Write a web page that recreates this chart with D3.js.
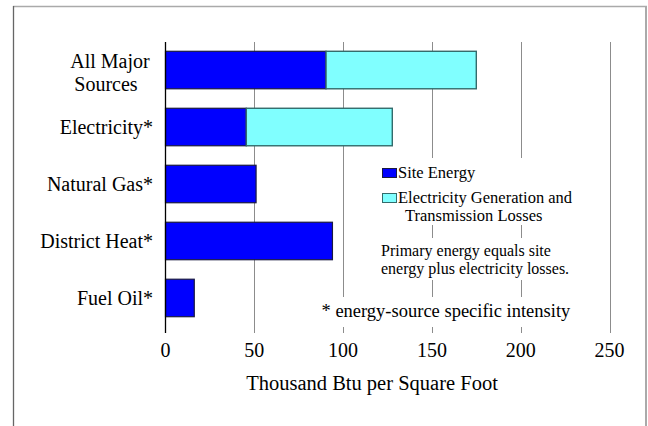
<!DOCTYPE html>
<html>
<head>
<meta charset="utf-8">
<script src="https://cdn.jsdelivr.net/npm/d3@7"></script>
<style>
  html, body { margin: 0; padding: 0; background: #fff; }
  svg { display: block; }
</style>
</head>
<body>
<script>
const categories = ["All Major Sources", "Electricity*", "Natural Gas*", "District Heat*", "Fuel Oil*"];
const siteEnergy = [90.4, 45.5, 51, 94, 16.2];
const losses = [84.6, 82.2, 0, 0, 0];
const tickValues = [0, 50, 100, 150, 200, 250];
const seriesNames = ["Site Energy", "Electricity Generation and|Transmission Losses"];
const seriesColors = ["#0000FF", "#80FFFF"];
const axisTitle = "Thousand Btu per Square Foot";
const noteLines = ["Primary energy equals site", "energy plus electricity losses."];
const footnote = "* energy-source specific intensity";

const FONT = "'Liberation Serif', Tinos, 'Times New Roman', Times, 'DejaVu Serif', serif";
const W = 648, H = 426;
const svg = d3.select("body").append("svg").attr("width", W).attr("height", H)
  .attr("font-family", FONT).style("font-family", FONT);

// frame
svg.append("line").attr("x1", 13).attr("x2", 647).attr("y1", 6.5).attr("y2", 6.5).attr("stroke", "#aaa").attr("stroke-width", 1.5);
svg.append("line").attr("x1", 13.5).attr("x2", 13.5).attr("y1", 6).attr("y2", 426).attr("stroke", "#666").attr("stroke-width", 1.3);
svg.append("line").attr("x1", 646).attr("x2", 646).attr("y1", 6).attr("y2", 426).attr("stroke", "#aaa").attr("stroke-width", 2);

const plotTop = 42, plotBottom = 333;
const x = d3.scaleLinear().domain([0, 250]).range([165.5, 609.5]);
const y = d3.scaleBand().domain(categories).range([42, 326]).paddingInner(0.342).paddingOuter(0.163);

// gridlines
svg.append("g").selectAll("line").data(tickValues.slice(1)).join("line")
  .attr("x1", d => Math.round(x(d)) + 0.5).attr("x2", d => Math.round(x(d)) + 0.5)
  .attr("y1", plotTop).attr("y2", plotBottom)
  .attr("stroke", "#8c8c8c").attr("stroke-width", 1);

// white boxes behind text (hide gridlines)
const boxes = [[378, 158, 208, 67], [378, 238, 208, 42], [318, 297, 262, 30]];
svg.append("g").selectAll("rect").data(boxes).join("rect")
  .attr("x", d => d[0]).attr("y", d => d[1]).attr("width", d => d[2]).attr("height", d => d[3])
  .attr("fill", "#fff");

// bars
const rows = categories.map((c, i) => ({ c, site: siteEnergy[i], loss: losses[i] }));
const g = svg.append("g");
g.selectAll("rect.site").data(rows).join("rect").attr("class", "site")
  .attr("x", x(0)).attr("y", d => y(d.c))
  .attr("width", d => x(d.site) - x(0)).attr("height", y.bandwidth())
  .attr("fill", seriesColors[0]).attr("stroke", "#1a1a40").attr("stroke-width", 1.2);
g.selectAll("rect.loss").data(rows.filter(d => d.loss > 0)).join("rect").attr("class", "loss")
  .attr("x", d => x(d.site)).attr("y", d => y(d.c))
  .attr("width", d => x(d.site + d.loss) - x(d.site)).attr("height", y.bandwidth())
  .attr("fill", seriesColors[1]).attr("stroke", "#336b6b").attr("stroke-width", 1.4);

// left axis line
svg.append("line").attr("x1", x(0)).attr("x2", x(0)).attr("y1", plotTop).attr("y2", plotBottom)
  .attr("stroke", "#000").attr("stroke-width", 1.3);

// category labels
const lab = svg.append("g").attr("font-size", 20);
rows.forEach(d => {
  const cy = y(d.c) + y.bandwidth() / 2;
  if (d.c === "All Major Sources") {
    lab.append("text").attr("x", 110).attr("y", cy - 2).attr("text-anchor", "middle").text("All Major");
    lab.append("text").attr("x", 106).attr("y", cy + 21).attr("text-anchor", "middle").text("Sources");
  } else {
    lab.append("text").attr("x", 153).attr("y", cy + 7).attr("text-anchor", "end").text(d.c);
  }
});

// tick labels
svg.append("g").selectAll("text").data(tickValues).join("text")
  .attr("x", d => x(d)).attr("y", 357).attr("text-anchor", "middle")
  .attr("font-size", 20).text(d => d);

// axis title
svg.append("text").attr("x", 372).attr("y", 390).attr("text-anchor", "middle")
  .attr("font-size", 20.5).text(axisTitle);

// legend
const leg = svg.append("g").attr("font-size", 16.5);
leg.append("rect").attr("x", 382.5).attr("y", 168.5).attr("width", 14).attr("height", 9)
  .attr("fill", seriesColors[0]).attr("stroke", "#1a1a40");
leg.append("text").attr("x", 398).attr("y", 178).text(seriesNames[0]);
leg.append("rect").attr("x", 382.5).attr("y", 193.5).attr("width", 14).attr("height", 9)
  .attr("fill", seriesColors[1]).attr("stroke", "#336b6b");
const parts = seriesNames[1].split("|");
leg.append("text").attr("x", 398).attr("y", 203).text(parts[0]);
leg.append("text").attr("x", 405).attr("y", 221).text(parts[1]);

// note
const note = svg.append("g").attr("font-size", 16);
noteLines.forEach((t, i) => note.append("text").attr("x", 381).attr("y", 255.5 + i * 18).text(t));

// footnote
svg.append("text").attr("x", 321.5).attr("y", 317).attr("font-size", 18.5).text(footnote);
</script>
</body>
</html>
